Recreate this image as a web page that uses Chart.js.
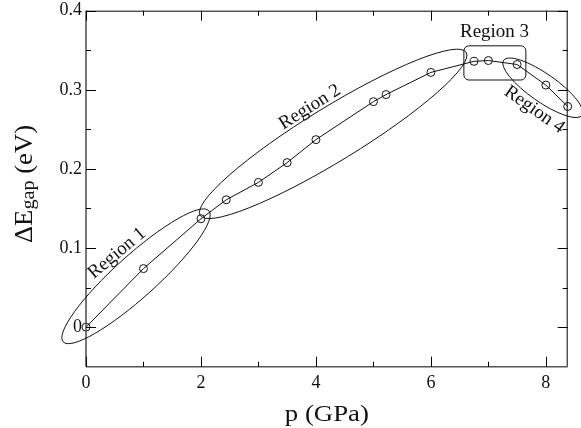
<!DOCTYPE html>
<html>
<head>
<meta charset="utf-8">
<script src="https://cdn.jsdelivr.net/npm/chart.js@4/dist/chart.umd.min.js"></script>
<style>
html,body{margin:0;padding:0;background:#fff;}
#wrap{width:581px;height:428px;}
</style>
</head>
<body>
<div id="wrap"><canvas id="c" width="581" height="428"></canvas></div>
<script>
// ---- data ----
const pressure = [0, 1, 2, 2.44, 3, 3.5, 4, 5, 5.22, 6, 6.75, 7, 7.5, 8, 8.38];
const gapShift = [0, 0.074, 0.137, 0.161, 0.183, 0.208, 0.237, 0.285, 0.294, 0.322, 0.336, 0.337, 0.332, 0.306, 0.279];
const xTickValues = [0, 2, 4, 6, 8];
const yTickValues = [0, 0.1, 0.2, 0.3, 0.4];
const xMinorTickValues = [1, 3, 5, 7];
const yMinorTickValues = [0.05, 0.15, 0.25, 0.35];
const regionNames = ['Region 1', 'Region 2', 'Region 3', 'Region 4'];
const xTitle = 'p (GPa)';
const yTitleParts = ['\u0394E', 'gap', ' (eV)'];

// ---- annotation geometry (data-space anchors, pixel sizes) ----
const ellipses = [
  {cx: 0.87, cy: 0.0643, rx: 98, ry: 21, angle: -42},
  {cx: 4.30, cy: 0.2443, rx: 156, ry: 27, angle: -31.5},
  {cx: 7.948, cy: 0.3026, rx: 48, ry: 14, angle: 35}
];
const box3 = {x0: 6.574, x1: 7.652, y0: 0.3124, y1: 0.3556, r: 5};
const labelPos = [
  {x: 0.539, y: 0.0933, angle: -40},
  {x: 3.896, y: 0.2781, angle: -32},
  {x: 7.107, y: 0.3733, angle: 0},
  {x: 7.80,  y: 0.2749, angle: 35}
];

const SERIF = '"Liberation Serif", "Times New Roman", serif';

const decor = {
  id: 'decor',
  afterDraw(chart) {
    const {ctx, chartArea: {left, right, top, bottom}, scales: {x, y}} = chart;
    ctx.save();
    // frame
    ctx.lineCap = 'butt';
    ctx.strokeStyle = '#000'; ctx.lineWidth = 1;
    ctx.beginPath();
    ctx.moveTo(left, top + 0.5); ctx.lineTo(right, top + 0.5);
    ctx.moveTo(right - 0.5, top); ctx.lineTo(right - 0.5, bottom);
    ctx.stroke();
    ctx.strokeStyle = '#555'; ctx.lineWidth = 1.6;
    ctx.beginPath();
    ctx.moveTo(left, top); ctx.lineTo(left, bottom);
    ctx.moveTo(left, bottom); ctx.lineTo(right, bottom);
    ctx.stroke();
    // inward ticks
    ctx.strokeStyle = '#000'; ctx.lineWidth = 1;
    const tickX = (v, len) => {
      const px = Math.round(x.getPixelForValue(v)) + 0.5;
      ctx.beginPath();
      ctx.moveTo(px, bottom); ctx.lineTo(px, bottom - len);
      ctx.moveTo(px, top); ctx.lineTo(px, top + len);
      ctx.stroke();
    };
    const tickY = (v, len) => {
      const py = Math.round(y.getPixelForValue(v)) + 0.5;
      ctx.beginPath();
      ctx.moveTo(left, py); ctx.lineTo(left + len, py);
      ctx.moveTo(right, py); ctx.lineTo(right - len, py);
      ctx.stroke();
    };
    xTickValues.forEach(v => tickX(v, 10));
    xMinorTickValues.forEach(v => tickX(v, 5));
    yTickValues.forEach(v => tickY(v, 10));
    yMinorTickValues.forEach(v => tickY(v, 5));

    // region ellipses
    ctx.strokeStyle = '#111'; ctx.lineWidth = 1;
    ellipses.forEach(e => {
      ctx.beginPath();
      ctx.ellipse(x.getPixelForValue(e.cx), y.getPixelForValue(e.cy), e.rx, e.ry, e.angle * Math.PI / 180, 0, Math.PI * 2);
      ctx.stroke();
    });
    // region 3 rounded box
    {
      const x0 = x.getPixelForValue(box3.x0), x1 = x.getPixelForValue(box3.x1);
      const y0 = y.getPixelForValue(box3.y1), y1 = y.getPixelForValue(box3.y0);
      ctx.beginPath();
      ctx.roundRect(x0, y0, x1 - x0, y1 - y0, box3.r);
      ctx.stroke();
    }
    // region labels
    ctx.fillStyle = '#111';
    ctx.font = '19px ' + SERIF;
    ctx.textAlign = 'center'; ctx.textBaseline = 'middle';
    regionNames.forEach((name, i) => {
      const p = labelPos[i];
      ctx.save();
      ctx.translate(x.getPixelForValue(p.x), y.getPixelForValue(p.y));
      ctx.rotate(p.angle * Math.PI / 180);
      ctx.fillText(name, 0, 0);
      ctx.restore();
    });

    // x title (stretched to the reference width)
    ctx.fillStyle = '#111';
    ctx.font = '23px ' + SERIF;
    ctx.textAlign = 'center'; ctx.textBaseline = 'alphabetic';
    {
      const w = ctx.measureText(xTitle).width;
      const sx = 84 / w;
      ctx.save();
      ctx.translate((left + right) / 2, 421);
      ctx.scale(sx, 1);
      ctx.fillText(xTitle, 0, 0);
      ctx.restore();
    }
    // y title with subscript
    {
      const big = '25px ' + SERIF, small = '19px ' + SERIF;
      ctx.font = big; const w0 = ctx.measureText(yTitleParts[0]).width;
      ctx.font = small; const w1 = ctx.measureText(yTitleParts[1]).width;
      ctx.font = big; const w2 = ctx.measureText(yTitleParts[2]).width;
      const total = w0 + w1 + w2;
      const s = 118 / total;
      ctx.save();
      ctx.translate(31.5, 184);
      ctx.rotate(-Math.PI / 2);
      ctx.scale(s, 1);
      ctx.textAlign = 'left';
      let cx = -total / 2;
      ctx.font = big; ctx.fillText(yTitleParts[0], cx, 0); cx += w0;
      ctx.font = small; ctx.fillText(yTitleParts[1], cx, 2); cx += w1;
      ctx.font = big; ctx.fillText(yTitleParts[2], cx, 0);
      ctx.restore();
    }
    ctx.restore();
  }
};

new Chart(document.getElementById('c'), {
  type: 'line',
  data: {
    datasets: [{
      data: pressure.map((p, i) => ({x: p, y: gapShift[i]})),
      borderColor: '#111',
      borderWidth: 1,
      pointStyle: 'circle',
      pointRadius: 4,
      pointBorderWidth: 1,
      pointBorderColor: '#111',
      pointBackgroundColor: 'rgba(0,0,0,0)',
      tension: 0,
      fill: false,
      clip: false
    }]
  },
  options: {
    responsive: false,
    animation: false,
    devicePixelRatio: 1,
    layout: {padding: {left: 0, right: 13.3, top: 10.7, bottom: 0}},
    plugins: {legend: {display: false}, tooltip: {enabled: false}, title: {display: false}},
    scales: {
      x: {
        type: 'linear', min: 0, max: 8.38,
        grid: {display: false, drawTicks: false}, border: {display: false},
        afterBuildTicks: s => { s.ticks = xTickValues.map(v => ({value: v})); },
        afterFit: s => { s.height = 61.3; s.paddingLeft = 0; s.paddingRight = 0; },
        ticks: {
          padding: 6, color: '#111', maxRotation: 0,
          font: {family: SERIF, size: 18},
          callback: v => String(v)
        },
        title: {display: false}
      },
      y: {
        type: 'linear', min: -0.05, max: 0.4,
        grid: {display: false, drawTicks: false}, border: {display: false},
        afterBuildTicks: s => { s.ticks = yTickValues.map(v => ({value: v})); },
        afterFit: s => { s.width = 86; s.paddingTop = 0; s.paddingBottom = 0; },
        ticks: {
          padding: 4, color: '#111',
          font: {family: SERIF, size: 18},
          callback: v => (v === 0 ? '0' : Number(v).toFixed(1))
        },
        title: {display: false}
      }
    }
  },
  plugins: [decor]
});
</script>
</body>
</html>
